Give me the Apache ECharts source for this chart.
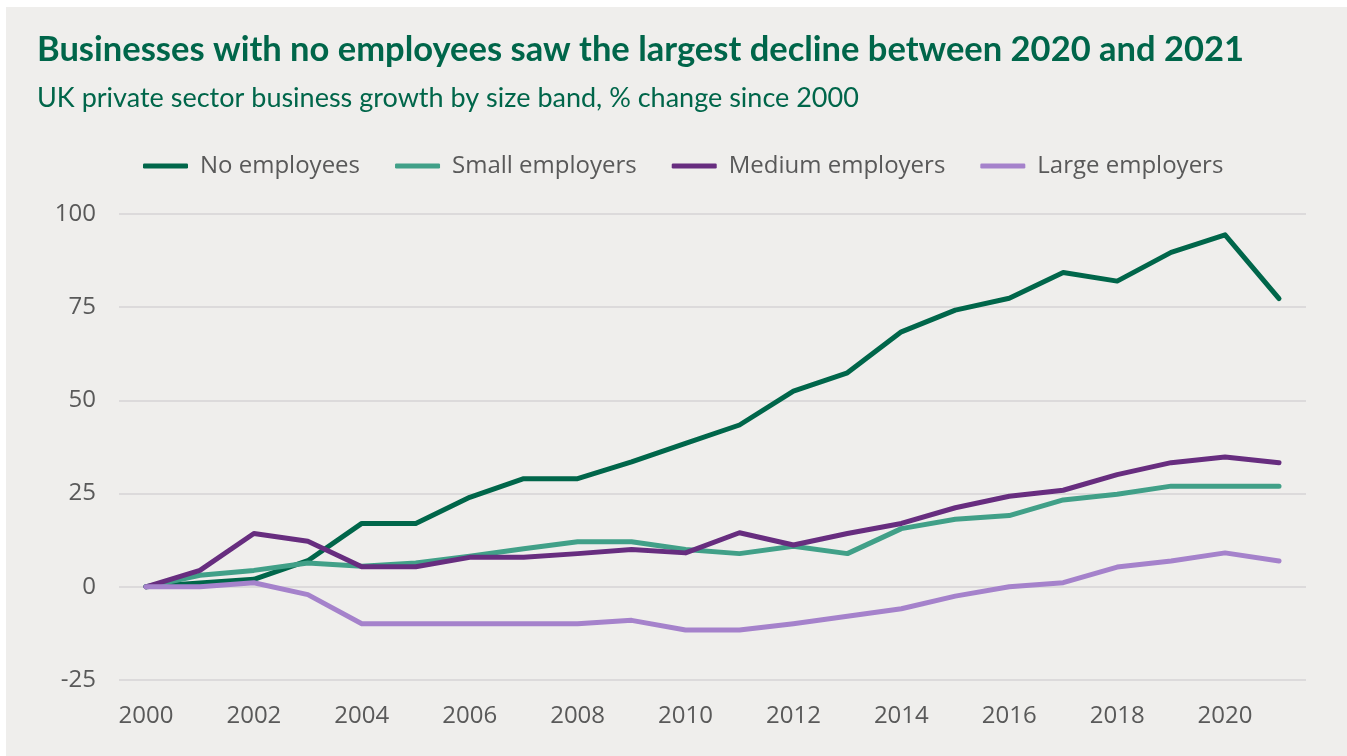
<!DOCTYPE html>
<html>
<head>
<meta charset="utf-8">
<script src="https://cdn.jsdelivr.net/npm/echarts@6/dist/echarts.min.js"></script>
<style>
  html, body { margin: 0; padding: 0; background: #ffffff; }
  #chart { position: absolute; left: 6px; top: 7px; width: 1341px; height: 749px; }
</style>
</head>
<body>
<div id="chart"></div>
<script>
// Years on the category axis
const years = ['2000','2001','2002','2003','2004','2005','2006','2007','2008','2009','2010',
               '2011','2012','2013','2014','2015','2016','2017','2018','2019','2020','2021'];

// % change in business count since 2000, by size band
const noEmployees = [0, 1, 2, 7, 17, 17, 24, 29, 29, 33.5, 38.5, 43.4, 52.5, 57.4, 68.4, 74.2, 77.4, 84.3, 82, 89.7, 94.4, 77.3];
const smallEmployers = [0, 3.1, 4.4, 6.4, 5.5, 6.4, 8.2, 10.2, 12.1, 12.1, 10, 8.9, 10.9, 8.9, 15.6, 18.1, 19.1, 23.3, 24.8, 27, 27, 27];
const mediumEmployers = [0, 4.4, 14.3, 12.2, 5.4, 5.4, 7.9, 7.9, 8.9, 10, 9.1, 14.5, 11.2, 14.3, 17, 21.2, 24.3, 25.9, 30.1, 33.3, 34.8, 33.3];
const largeEmployers = [0, 0, 1.1, -2.1, -9.9, -9.9, -9.9, -9.9, -9.9, -9, -11.6, -11.6, -9.9, -7.9, -5.9, -2.5, 0, 1.1, 5.3, 6.9, 9.1, 6.9];

const seriesNames = ['No employees', 'Small employers', 'Medium employers', 'Large employers'];
const seriesColors = ['#00664a', '#41a088', '#672d7f', '#a582cb'];
const seriesData = [noEmployees, smallEmployers, mediumEmployers, largeEmployers];

const chart = echarts.init(document.getElementById('chart'));

const labelFont = '"Open Sans", "Noto Sans", sans-serif';
const titleFont = 'Lato, "Open Sans", sans-serif';

chart.setOption({
  backgroundColor: '#efeeec',
  animation: false,
  title: [
    {
      text: 'Businesses with no employees saw the largest decline between 2020 and 2021',
      left: 26, top: 20,
      textStyle: { fontFamily: titleFont, fontWeight: 'bold', fontSize: 34.5, color: '#00664a' }
    },
    {
      text: 'UK private sector business growth by size band, % change since 2000',
      left: 26, top: 73,
      textStyle: { fontFamily: titleFont, fontWeight: 'normal', fontSize: 27, color: '#00664a' }
    }
  ],
  legend: {
    left: 132, top: 142,
    icon: 'roundRect',
    itemWidth: 45, itemHeight: 5,
    itemGap: 35,
    textStyle: { fontFamily: labelFont, fontSize: 24, color: '#595959', padding: [0, 0, 0, 7] },
    data: seriesNames
  },
  grid: { left: 113, right: 41, top: 207, bottom: 76 },
  xAxis: {
    type: 'category',
    data: years,
    boundaryGap: true,
    axisLine: { show: false },
    axisTick: { show: false },
    axisLabel: { interval: 1, fontFamily: labelFont, fontSize: 24, color: '#595959', margin: 24 }
  },
  yAxis: {
    type: 'value',
    min: -25, max: 100, interval: 25,
    axisLine: { show: false },
    axisTick: { show: false },
    axisLabel: { fontFamily: labelFont, fontSize: 24, color: '#595959', margin: 23 },
    splitLine: { lineStyle: { color: '#dcdadb', width: 2 } }
  },
  series: seriesNames.map((name, i) => ({
    name: name,
    type: 'line',
    data: seriesData[i],
    symbol: 'none',
    color: seriesColors[i],
    lineStyle: { width: 5, color: seriesColors[i], cap: 'round', join: 'round' }
  }))
});
</script>
</body>
</html>
